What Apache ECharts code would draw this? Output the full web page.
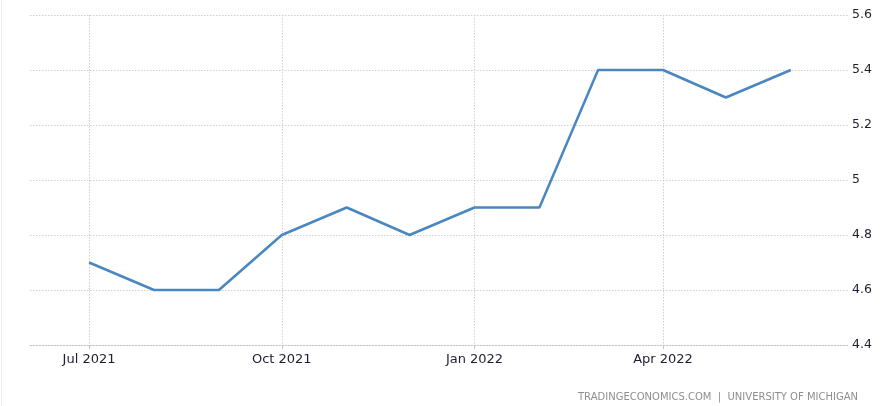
<!DOCTYPE html>
<html>
<head>
<meta charset="utf-8">
<script src="https://cdn.jsdelivr.net/npm/echarts@6/dist/echarts.min.js"></script>
<style>html,body{margin:0;padding:0;background:#fff;}#c{width:883px;height:406px;}</style>
</head>
<body>
<div id="c"></div>
<script>
var months = ['2021-07-01','2021-08-01','2021-09-01','2021-10-01','2021-11-01','2021-12-01','2022-01-01','2022-02-01','2022-03-01','2022-04-01','2022-05-01','2022-06-01'];
var values = [4.7, 4.6, 4.6, 4.8, 4.9, 4.8, 4.9, 4.9, 5.4, 5.4, 5.3, 5.4];
var tickDates = ['2021-07-01','2021-10-01','2022-01-01','2022-04-01'];
var tickLabels = ['Jul 2021','Oct 2021','Jan 2022','Apr 2022'];
var yTicks = [4.4, 4.6, 4.8, 5, 5.2, 5.4, 5.6];
var sourceText = 'TRADINGECONOMICS.COM  |  UNIVERSITY OF MICHIGAN';

// x values measured in days since 2021-07-01 (UTC)
var BASE = Date.UTC(2021, 6, 1);
function dayNum(s){ var p = s.split('-'); return Math.round((Date.UTC(+p[0], +p[1]-1, +p[2]) - BASE) / 86400000); }
var tickDays = tickDates.map(dayNum);
var labelMap = {};
tickDays.forEach(function(t,i){ labelMap[t] = tickLabels[i]; });

var chart = echarts.init(document.getElementById('c'));
chart.setOption({
  animation: false,
  backgroundColor: '#fff',
  grid: { left: 30, right: 35, top: 15, bottom: 61 },
  xAxis: {
    type: 'value',
    min: -28.2,
    max: dayNum('2022-04-01') + 88.3,
    axisLine: { show: true, lineStyle: { color: '#c4c4c4', type: [1.5, 1.5], width: 1 } },
    axisTick: { show: true, customValues: tickDays, length: 4, lineStyle: { color: '#c4c4c4' } },
    splitLine: { show: true, lineStyle: { color: '#cfcfcf', type: [1.5, 1.5], width: 1 } },
    axisLabel: {
      customValues: tickDays,
      formatter: function(v){ return labelMap[Math.round(v)] || ''; },
      color: '#1e1e30', fontFamily: 'DejaVu Sans', fontSize: 13, margin: 8
    }
  },
  yAxis: {
    type: 'value',
    position: 'right',
    min: yTicks[0], max: yTicks[yTicks.length-1], interval: 0.2,
    axisLine: { show: false },
    axisTick: { show: false },
    splitLine: { show: true, lineStyle: { color: '#cfcfcf', type: [1.5, 1.5], width: 1 } },
    axisLabel: {
      formatter: function(v){ return String(Math.round(v*10)/10); },
      color: '#1e1e30', fontFamily: 'DejaVu Sans', fontSize: 12.5, margin: 4
    }
  },
  series: [{
    type: 'line',
    data: months.map(function(m,i){ return [dayNum(m), values[i]]; }),
    showSymbol: false,
    symbol: 'none',
    lineStyle: { color: '#4a86bf', width: 2.5 },
    itemStyle: { color: '#4a86bf' }
  }],
  graphic: [
    { type: 'line', shape: { x1: 1.5, y1: 0, x2: 1.5, y2: 406 }, style: { stroke: '#ececec', lineWidth: 1 } },
    { type: 'text', right: 25, top: 392, style: { text: sourceText, fill: '#8e8e8e', font: '10px "DejaVu Sans"' } }
  ]
});
</script>
</body>
</html>
